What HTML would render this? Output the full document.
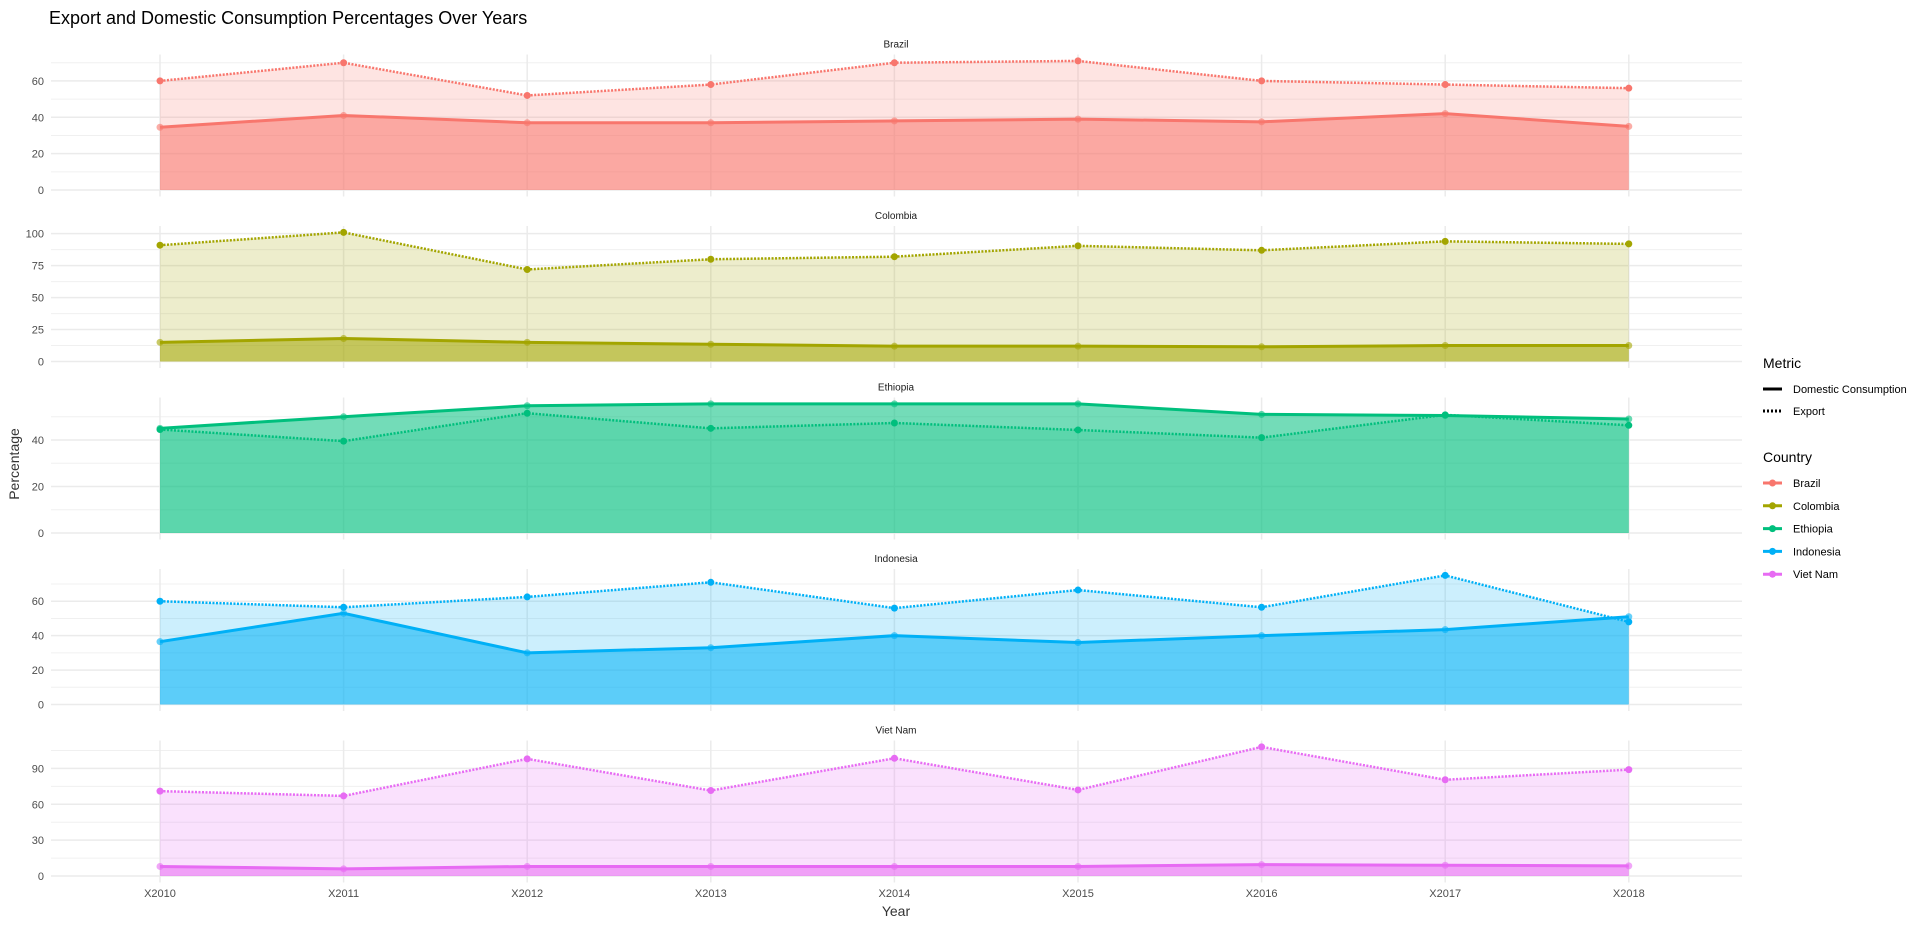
<!DOCTYPE html>
<html><head><meta charset="utf-8">
<style>
body{margin:0;background:#fff;}
svg text{font-family:"Liberation Sans",Arial,sans-serif;}
</style></head>
<body>
<svg id="chart" width="1917" height="923" xmlns="http://www.w3.org/2000/svg">
<text x="49" y="24" font-size="18" fill="#000">Export and Domestic Consumption Percentages Over Years</text>
<text x="19" y="464" font-size="14" fill="#333" text-anchor="middle" transform="rotate(-90 19 464)">Percentage</text>
<text x="896" y="916" font-size="14" fill="#333" text-anchor="middle">Year</text>
<g id="panels"></g>
<g id="legend">
<text x="1763" y="368" font-size="14" fill="#000">Metric</text>
<line x1="1763" y1="389" x2="1782" y2="389" stroke="#000" stroke-width="3"/>
<text x="1793" y="393" font-size="11" fill="#000">Domestic Consumption</text>
<line x1="1763" y1="411" x2="1782" y2="411" stroke="#000" stroke-width="3" stroke-dasharray="2 2"/>
<text x="1793" y="415" font-size="11" fill="#000">Export</text>
<text x="1763" y="462" font-size="14" fill="#000">Country</text>
<g id="countryLegend"></g>
</g>
</svg>
<script>
const years = ["X2010","X2011","X2012","X2013","X2014","X2015","X2016","X2017","X2018"];
const countries = ["Brazil","Colombia","Ethiopia","Indonesia","Viet Nam"];
const colors = ["#F8766D","#A3A500","#00BF7D","#00B0F6","#E76BF3"];
const exportBrazil = [60,70,52,58,70,71,60,58,56];
const domesticBrazil = [34.5,41,37,37,38,39,37.5,42,35];
const exportColombia = [91,101,72,80,82,90.5,87,94,92];
const domesticColombia = [15,18,15,13.5,12,12,11.5,12.5,12.5];
const exportEthiopia = [44.5,39.5,51.5,45,47.3,44.3,41,50.8,46.3];
const domesticEthiopia = [45,50,54.7,55.5,55.5,55.5,51,50.5,49];
const exportIndonesia = [60,56.5,62.5,71,56,66.5,56.5,75,48];
const domesticIndonesia = [36.5,53,30,33,40,36,40,43.5,51];
const exportVietNam = [71,67,98,71.5,98.5,72,108,80.5,89];
const domesticVietNam = [8,6,8,8,8,8,9.5,9,8.5];
const yTicksBrazil = [0,20,40,60];
const yTicksColombia = [0,25,50,75,100];
const yTicksEthiopia = [0,20,40];
const yTicksIndonesia = [0,20,40,60];
const yTicksVietNam = [0,30,60,90];

const exportsAll=[exportBrazil,exportColombia,exportEthiopia,exportIndonesia,exportVietNam];
const domAll=[domesticBrazil,domesticColombia,domesticEthiopia,domesticIndonesia,domesticVietNam];
const ticksAll=[yTicksBrazil,yTicksColombia,yTicksEthiopia,yTicksIndonesia,yTicksVietNam];
const NS="http://www.w3.org/2000/svg";
const X0=160, DX=183.6, GL=51, GR=1742, PITCH=171.5, ZERO0=190;
const PANEL_H=142;
function xs(i){return X0+i*DX;}
function mk(tag,attrs,parent){const e=document.createElementNS(NS,tag);for(const k in attrs)e.setAttribute(k,attrs[k]);parent.appendChild(e);return e;}
const panels=document.getElementById('panels');
countries.forEach((c,p)=>{
  const ex=exportsAll[p], dm=domAll[p], ticks=ticksAll[p];
  const zero=ZERO0+p*PITCH;
  const all=ex.concat(dm);
  const ymax=Math.max(...all), ymin=Math.min(0,...all);
  const R=ymax-ymin;
  const pxPer=PANEL_H/(1.1*R);
  const bot=zero+0.05*R*pxPer, top=bot-PANEL_H;
  const ys=v=>zero-v*pxPer;
  const g=mk('g',{},panels);
  
  
  const st=mk('text',{x:896,y:top-7,'font-size':10,fill:'#1a1a1a','text-anchor':'middle'},g);
  st.textContent=c;
  
  
  const step=ticks[1]-ticks[0];
  for(let v=step/2; ys(v)>top; v+=step){
    const l=mk('line',{x1:GL,x2:GR,y1:ys(v),y2:ys(v),stroke:'#f0f0f0','stroke-width':1},g);
    
    
  }
  ticks.forEach(v=>{
    const l=mk('line',{x1:GL,x2:GR,y1:ys(v),y2:ys(v),stroke:'#ebebeb','stroke-width':1.5},g);
    
    
    const t=mk('text',{x:44,y:ys(v)+4,'font-size':11,fill:'#4d4d4d','text-anchor':'end'},g);
    t.textContent=v;
    
    
  });
  years.forEach((y,i)=>{
    const l=mk('line',{x1:xs(i),x2:xs(i),y1:top,y2:bot,stroke:'#ebebeb','stroke-width':1.5},g);
    
    
  });
  const area=(arr)=>'M'+xs(0)+','+zero+' '+arr.map((v,i)=>'L'+xs(i)+','+ys(v)).join(' ')+' L'+xs(arr.length-1)+','+zero+'Z';
  const line=(arr)=>arr.map((v,i)=>(i?'L':'M')+xs(i)+','+ys(v)).join(' ');
  const a1=mk('path',{d:area(ex),fill:colors[p],'fill-opacity':0.2},g);
  
  
  const a2=mk('path',{d:area(dm),fill:colors[p],'fill-opacity':0.55},g);
  
  
  const l1=mk('path',{d:line(dm),fill:'none',stroke:colors[p],'stroke-width':3},g);
  
  
  const l2=mk('path',{d:line(ex),fill:'none',stroke:colors[p],'stroke-width':2.5,'stroke-dasharray':'2 1.5'},g);
  
  
  dm.forEach((v,i)=>{
    const pt=mk('circle',{cx:xs(i),cy:ys(v),r:3.5,fill:colors[p],'fill-opacity':0.6},g);
    
    
  });
  ex.forEach((v,i)=>{
    const pt=mk('circle',{cx:xs(i),cy:ys(v),r:3.5,fill:colors[p]},g);
    
    
  });
  if(p===countries.length-1){
    years.forEach((y,i)=>{
      const t=mk('text',{x:xs(i),y:897,'font-size':11,fill:'#4d4d4d','text-anchor':'middle'},g);
      t.textContent=y;
      
      
    });
  }
});
const cl=document.getElementById('countryLegend');
countries.forEach((c,i)=>{
  const y=483+i*22.8;
  const l=mk('line',{x1:1763,x2:1782,y1:y,y2:y,stroke:colors[i],'stroke-width':3},cl);
  
  
  const d=mk('circle',{cx:1772.5,cy:y,r:3.5,fill:colors[i]},cl);
  
  
  const t=mk('text',{x:1793,y:y+4,'font-size':11,fill:'#000'},cl);
  t.textContent=c;
  
  
});
</script>
</body></html>
